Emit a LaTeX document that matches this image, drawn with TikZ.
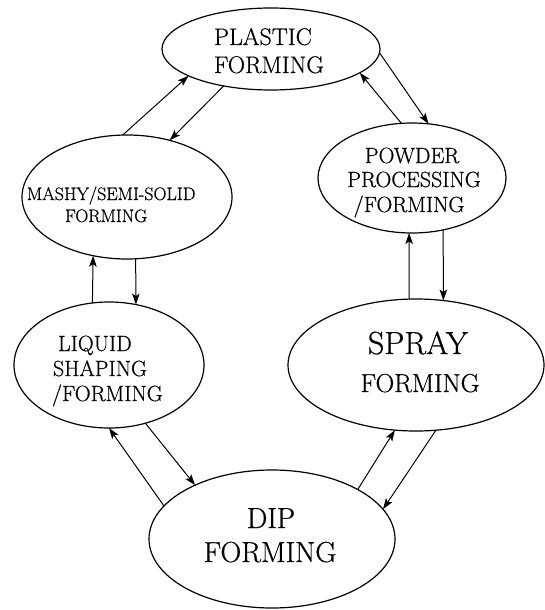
\documentclass[tikz,border=0pt]{standalone}
\usepackage{fontspec}
\newfontfamily\lmheavy{Latin Modern Roman}[FakeBold=0.6]
\usetikzlibrary{arrows.meta,shapes.geometric}
\begin{document}
\begin{tikzpicture}[x=1pt,y=-1pt,
  oval/.style={ellipse, draw, line width=1.2pt, inner sep=0pt, outer sep=0pt},
  lbl/.style={inner sep=0pt, outer sep=0pt},
  fa/.style={font=\lmheavy\fontsize{24}{28}\selectfont},
  fb/.style={font=\lmheavy\fontsize{22}{25}\selectfont},
  fc/.style={font=\lmheavy\fontsize{18}{22}\selectfont},
  fd/.style={font=\lmheavy\fontsize{22}{25}\selectfont},
  fe/.style={font=\lmheavy\fontsize{32}{36}\selectfont},
  ff/.style={font=\lmheavy\fontsize{26}{30}\selectfont},
  fg/.style={font=\lmheavy\fontsize{29}{33}\selectfont},
  link/.style={line width=1pt, -{Stealth[length=11pt,width=7.5pt,inset=2.5pt]}}]
\useasboundingbox (0,0) rectangle (544,610);
% ellipses
\node[oval, minimum width=218pt, minimum height=82pt]  (plastic) at (271,49)  {};
\node[oval, minimum width=210pt, minimum height=124pt] (mashy)   at (127,197) {};
\node[oval, minimum width=188pt, minimum height=110pt] (powder)  at (412,178) {};
\node[oval, minimum width=190pt, minimum height=126pt] (liquid)  at (109,365) {};
\node[oval, minimum width=256pt, minimum height=132pt] (spray)   at (416,365) {};
\node[oval, minimum width=246pt, minimum height=138pt] (dip)     at (272,539) {};
% texts
\node[lbl, fa, anchor=base west] (plasticA) at (214,45) {PLASTIC};
\node[lbl, fa, anchor=base west] (plasticB) at (214,73) {FORMING};
\node[lbl, fb, anchor=base] (powderA) at (412,163) {POWDER};
\node[lbl, fb, anchor=base] (powderB) at (414,187) {PROCESSING};
\node[lbl, fb, anchor=base] (powderC) at (409,212) {/FORMING};
\node[lbl, fc, anchor=base west] (mashyA) at (27,200) {MASHY/SEMI-SOLID};
\node[lbl, fc, anchor=base west] (mashyB) at (65,222) {FORMING};
\node[lbl, fd, anchor=base west] (liquidA) at (58,351) {LIQUID};
\node[lbl, fd, anchor=base west] (liquidB) at (53,376) {SHAPING};
\node[lbl, fd, anchor=base west] (liquidC) at (52,401) {/FORMING};
\node[lbl, fe, anchor=base] (sprayA) at (418,354) {SPRAY};
\node[lbl, ff, anchor=base] (sprayB) at (420,392) {FORMING};
\node[lbl, fg, anchor=base] (dipA) at (271,528) {DIP};
\node[lbl, fg, anchor=base] (dipB) at (270,562) {FORMING};
% connectors
\draw[link] (mashy.94.5) -- (plastic.198);
\draw[link] (plastic.218.3) -- (mashy.53.1);
\draw[link] (plastic.-2.1) -- (powder.73.1);
\draw[link] (powder.101.3) -- (plastic.-15.9);
\draw[link] (liquid.105.3) -- (mashy.-120.9);
\draw[link] (mashy.-82.6) -- (liquid.66.8);
\draw[link] (spray.96.1) -- (powder.-93.1);
\draw[link] (powder.-59.2) -- (spray.67.3);
\draw[link] (dip.163.6) -- (liquid.-90.9);
\draw[link] (liquid.-58) -- (dip.145.3);
\draw[link] (dip.30.9) -- (spray.-108);
\draw[link] (spray.-73.6) -- (dip.15.5);
\end{tikzpicture}
\end{document}
